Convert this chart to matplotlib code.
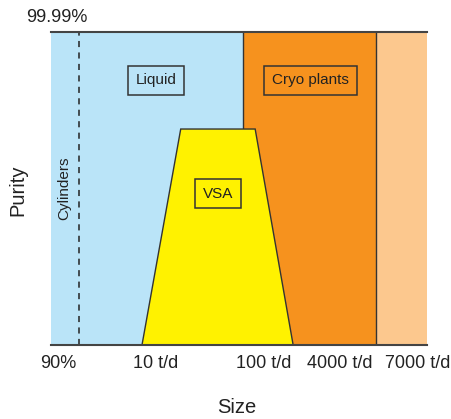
import matplotlib.pyplot as plt
from matplotlib.patches import Polygon

plt.rcParams['font.family'] = ['Liberation Sans', 'DejaVu Sans']

# size axis runs 0..100 (arbitrary), purity axis 0..100
region_edges = [0, 51.1, 86.4, 100]
region_colors = ['#bae4f8', '#f6921e', '#fcc88e']
cylinders_x = 7.4
vsa_x = [24.2, 34.5, 54.3, 64.4]
vsa_y = [0, 69.0, 69.0, 0]
tick_pos = [1.8, 27.9, 56.6, 76.9, 97.6]
tick_labels = ['90%', '10 t/d', '100 t/d', '4000 t/d', '7000 t/d']
boxes = [('Liquid', 28.0, 84.6), ('Cryo plants', 69.0, 84.6), ('VSA', 44.5, 48.4)]

fig = plt.figure(figsize=(4.52, 4.19), dpi=100)
ax = fig.add_axes([51 / 452, 74 / 419, 376 / 452, 313 / 419])

for i, c in enumerate(region_colors):
    ax.axvspan(region_edges[i], region_edges[i + 1], color=c, lw=0, zorder=1)
for e in region_edges[1:3]:
    ax.axvline(e, color='#333333', lw=1.0, zorder=2)
ax.axvline(cylinders_x, color='#222222', lw=1.1, ls=(0, (4, 3.5)), zorder=2)

ax.add_patch(Polygon(list(zip(vsa_x, vsa_y)), closed=True, facecolor='#fff200',
                     edgecolor='#333333', lw=1.0, zorder=3))

for txt, x, y in boxes:
    ax.text(x, y, txt, ha='center', va='center', fontsize=11, color='#222222', zorder=4,
            bbox=dict(boxstyle='square,pad=0.5', fc='none', ec='#333333', lw=1.1))
ax.text(3.4, 50, 'Cylinders', rotation=90, ha='center', va='center',
        fontsize=11, color='#222222', zorder=4)

ax.set_xlim(0, 100)
ax.set_ylim(0, 100)
ax.set_xticks(tick_pos)
ax.set_xticklabels(tick_labels, fontsize=13, color='#222222')
ax.tick_params(axis='x', length=0, pad=7)
ax.set_yticks([])
for s in ['left', 'right']:
    ax.spines[s].set_visible(False)
for s in ['top', 'bottom']:
    ax.spines[s].set_color('#444444')
    ax.spines[s].set_linewidth(1.5)
    ax.spines[s].set_zorder(5)

fig.text(57 / 452, 1 - 17 / 419, '99.99%', ha='center', va='center', fontsize=13, color='#222222')
fig.text(237 / 452, 1 - 407 / 419, 'Size', ha='center', va='center', fontsize=14.5, color='#222222')
fig.text(18 / 452, 1 - 190 / 419, 'Purity', rotation=90, ha='center', va='center',
         fontsize=14.5, color='#222222')

fig.savefig('out.png', dpi=100)
